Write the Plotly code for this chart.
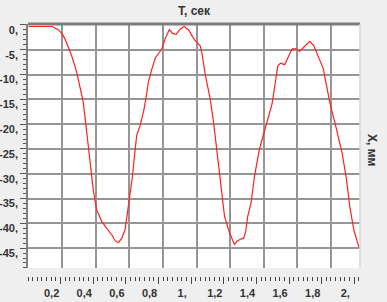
import plotly.graph_objects as go

# time, s
t_sec = [
    0.0, 0.14, 0.176, 0.20, 0.216, 0.236, 0.256, 0.286, 0.316, 0.325,
    0.341, 0.355, 0.37, 0.385, 0.405, 0.435, 0.465, 0.495, 0.515, 0.535,
    0.555, 0.574, 0.588, 0.604, 0.618, 0.634, 0.644, 0.664, 0.686, 0.70,
    0.713, 0.733, 0.755, 0.793, 0.813, 0.838, 0.857, 0.879, 0.903, 0.927,
    0.952, 0.975, 0.995, 1.022, 1.032, 1.052, 1.082, 1.102, 1.118, 1.137,
    1.152, 1.167, 1.191, 1.211, 1.225, 1.241, 1.261, 1.281, 1.291, 1.305,
    1.325, 1.345, 1.361, 1.374, 1.39, 1.42, 1.45, 1.47, 1.484, 1.50,
    1.525, 1.55, 1.57, 1.59, 1.615, 1.639, 1.675, 1.699, 1.728, 1.755,
    1.774, 1.798, 1.828, 1.858, 1.868, 1.894, 1.913, 1.937, 1.967,
]
# displacement, mm
x_mm = [
    -0.3, -0.3, -0.95, -1.8, -2.8, -4.5, -6.2, -9.5, -13.9, -15.5,
    -20.2, -24.2, -29.3, -33.3, -37.3, -39.6, -41.0, -42.3, -43.5, -43.9,
    -43.0, -41.3, -38.0, -33.9, -30.6, -25.2, -22.2, -20.3, -17.2, -14.5,
    -11.5, -9.0, -6.6, -4.9, -2.8, -0.95, -1.7, -1.9, -0.8, -0.3,
    -0.95, -2.3, -3.3, -4.2, -5.6, -10.0, -15.0, -19.8, -24.2, -29.9,
    -34.6, -38.6, -41.3, -43.3, -44.3, -43.6, -43.2, -43.0, -42.0, -38.6,
    -35.9, -30.6, -27.2, -25.2, -23.2, -19.6, -15.9, -11.5, -8.3, -7.7,
    -8.0, -6.2, -4.8, -4.8, -5.3, -4.5, -3.3, -4.2, -6.5, -8.8,
    -12.2, -16.2, -20.2, -24.4, -25.9, -31.3, -36.6, -41.3, -44.8,
]

x_ticks = [0.2, 0.4, 0.6, 0.8, 1.0, 1.2, 1.4, 1.6, 1.8, 2.0]
x_labels = ["0,2", "0,4", "0,6", "0,8", "1,", "1,2", "1,4", "1,6", "1,8", "2,"]
y_ticks = [0, -5, -10, -15, -20, -25, -30, -35, -40, -45]
y_labels = ["0,", "-5,", "-10,", "-15,", "-20,", "-25,", "-30,", "-35,", "-40,", "-45,"]

lbl_font = dict(family="Liberation Sans, Arial", size=11, color="#333333", weight="bold")
x_range = [-0.004, 1.974]
ruler_range = [0.0, 2.035]

fig = go.Figure()
fig.add_trace(go.Scatter(x=t_sec, y=x_mm, mode="lines",
                         line=dict(color="#ff2020", width=1.2),
                         hoverinfo="skip", showlegend=False))
# invisible trace so the ruler axis is drawn
fig.add_trace(go.Scatter(x=ruler_range, y=[0, 0], xaxis="x2", mode="lines",
                         line=dict(width=0), hoverinfo="skip", showlegend=False))

fig.update_layout(
    width=387, height=302,
    margin=dict(l=28, r=27, t=24, b=26),
    paper_bgcolor="#efefef", plot_bgcolor="white",
    xaxis=dict(range=x_range, tickvals=x_ticks, showticklabels=False, ticks="",
               showgrid=True, gridcolor="#959595", gridwidth=1.5, zeroline=False,
               showline=False, anchor="y", automargin=False),
    xaxis2=dict(range=ruler_range, overlaying="x", anchor="free", position=0, side="bottom",
                tickvals=x_ticks, ticktext=x_labels, ticks="outside", ticklen=7,
                tickwidth=1, tickcolor="#444444", tickfont=lbl_font, ticklabelshift=-9,
                minor=dict(dtick=0.2 / 7, tick0=0, ticks="outside", ticklen=4,
                           tickcolor="#444444", showgrid=False),
                showgrid=False, zeroline=False, showline=False, automargin=False),
    yaxis=dict(domain=[0.032, 1], range=[-49, 0.2], tickvals=y_ticks, ticktext=y_labels,
               ticks="outside", ticklen=6, tickcolor="#555555", tickfont=lbl_font,
               ticklabelshift=5, automargin=False,
               minor=dict(dtick=1, ticks="outside", ticklen=3, tickcolor="#555555",
                          showgrid=False),
               showgrid=True, gridcolor="#959595", gridwidth=1.5, zeroline=False,
               showline=True, linecolor="#808080", linewidth=1.5),
    shapes=[
        dict(type="line", xref="paper", yref="paper", x0=0, x1=1, y0=1, y1=1,
             line=dict(color="#7c7c7c", width=3)),
        dict(type="line", xref="paper", yref="y domain", x0=1, x1=1, y0=0, y1=1,
             line=dict(color="#d6d6d6", width=1.5)),
    ],
    annotations=[
        dict(text="T, сек", xref="paper", yref="paper", x=0.5, y=1, yanchor="middle",
             yshift=13, showarrow=False,
             font=dict(family="Liberation Sans, Arial", size=12, color="#333333",
                       weight="bold")),
        dict(text="X, мм", xref="paper", yref="paper", x=1, xshift=21, y=0.5,
             textangle=90, showarrow=False,
             font=dict(family="Liberation Sans, Arial", size=12, color="#333333",
                       weight="bold")),
    ],
)

# page body has a default 8px margin; drop it so the figure sits at the corner
fig.write_html("out.html", config={"displayModeBar": False},
               post_script="document.body.style.margin='0px';")
